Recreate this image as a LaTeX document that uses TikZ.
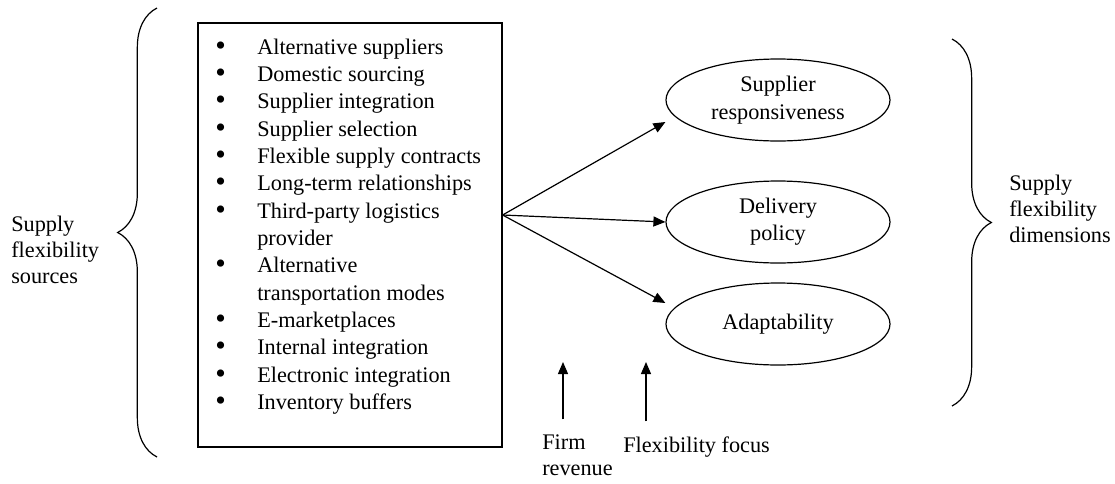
\documentclass[tikz,border=0pt]{standalone}
\usepackage{fontspec}
\setmainfont{Liberation Serif}
\usetikzlibrary{shapes.geometric,arrows.meta,decorations.pathreplacing}

\newcommand{\itemdot}{\raisebox{-0.05em}{\scalebox{1.35}{\textbullet}}}

\begin{document}
\begin{tikzpicture}[
            x=0.75pt, y=-0.75pt,
            font=\fontsize{16.7}{20.5}\selectfont,
            every node/.style={inner sep=0pt},
            listbox/.style={draw, line width=0.9pt, minimum width=228pt, minimum height=318pt},
            dimnode/.style={ellipse, draw, line width=0.9pt, minimum width=168pt, minimum height=61.5pt, align=center},
            sidelabel/.style={align=left, font=\fontsize{16.7}{19.5}\selectfont},
            fanarrow/.style={-{Triangle[length=9pt,width=7.5pt]}, line width=0.9pt},
            bracket/.style={decorate, decoration={brace, amplitude=29.5pt}, line width=0.9pt}
        ]
        \useasboundingbox (0,0) rectangle (1115,483);

        % Sources box
        \node[listbox] (sources) at (350,235) {};
        \node[anchor=base west] (items) at (215,54) {%
            \begin{tabular}[t]{@{}l@{}l@{}}
            \makebox[31.5pt][l]{\itemdot} & Alternative suppliers \\
            \itemdot & Domestic sourcing \\
            \itemdot & Supplier integration \\
            \itemdot & Supplier selection \\
            \itemdot & Flexible supply contracts \\
            \itemdot & Long-term relationships \\
            \itemdot & Third-party logistics \\
                     & provider \\
            \itemdot & Alternative \\
                     & transportation modes \\
            \itemdot & E-marketplaces \\
            \itemdot & Internal integration \\
            \itemdot & Electronic integration \\
            \itemdot & Inventory buffers
            \end{tabular}};

        % Dimension nodes
        \node[dimnode] (resp) at (778,100) {Supplier\\responsiveness};
        \node[dimnode] (deliv) at (778,222) {Delivery\\policy};
        \node[dimnode] (adapt) at (778,324) {Adaptability};

        % Edges
        \coordinate (fan) at ([yshift=15pt]sources.east);
        \draw[fanarrow] (fan) -- ([yshift=-16.5pt]resp.west);
        \draw[fanarrow] (fan) -- (deliv.west);
        \draw[fanarrow] (fan) -- ([yshift=15.75pt]adapt.west);

        % Side labels and braces
        \node[sidelabel, anchor=base west] (srclabel) at (11,283) {Supply\\flexibility\\sources};
        \node[sidelabel, anchor=base west] (dimlabel) at (1009,242) {Supply\\flexibility\\dimensions};
        \draw[bracket] (157,457) -- (157,8);
        \draw[bracket] (952,39) -- (952,406);

        % Bottom labels
        \node[sidelabel, anchor=base west] (firm) at (542,475) {Firm\\revenue};
        \node[anchor=base west] (focus) at (623,452) {Flexibility focus};
        \coordinate (firmtip) at (563,362);
        \coordinate (focustip) at (646,362);
        \draw[fanarrow, shorten <=11pt] (firm.north -| firmtip) -- (firmtip);
        \draw[fanarrow, shorten <=11pt] (focus.north -| focustip) -- (focustip);

    \end{tikzpicture}
\end{document}
